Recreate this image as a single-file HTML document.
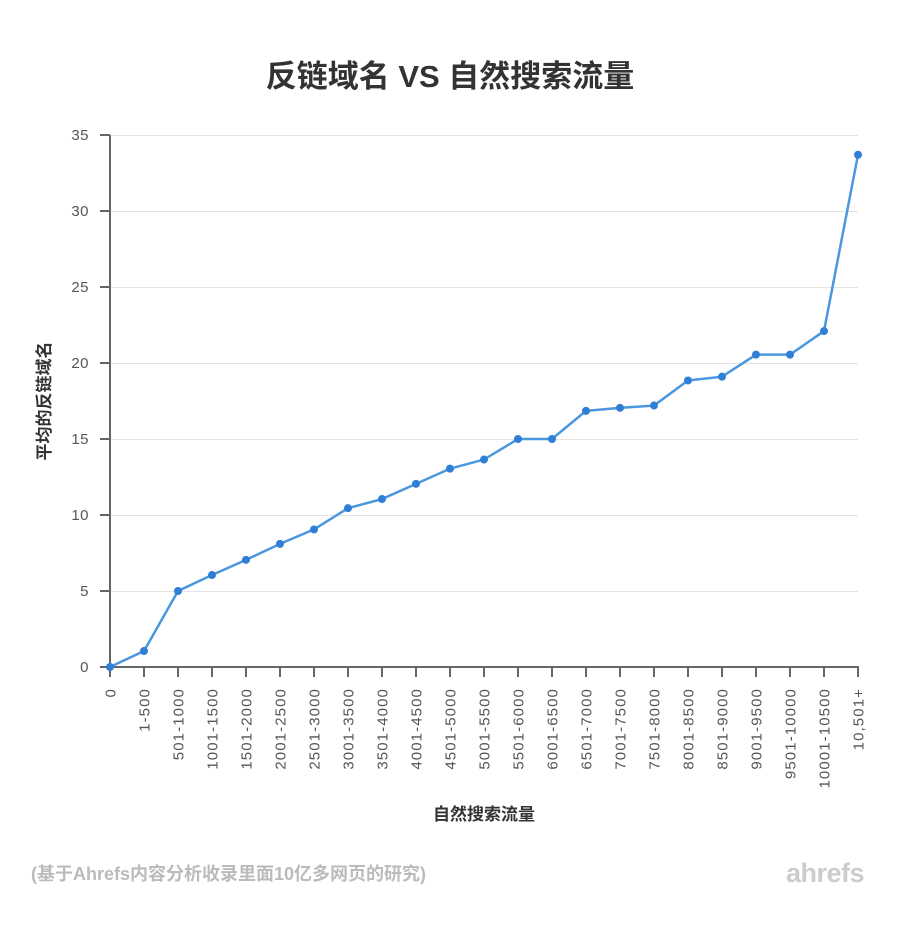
<!DOCTYPE html>
<html><head><meta charset="utf-8"><style>
html,body{margin:0;padding:0;background:#fff;}
svg{display:block;font-family:"Liberation Sans","Noto Sans CJK SC",sans-serif;}
</style></head><body>
<svg width="900" height="942" viewBox="0 0 900 942" xmlns="http://www.w3.org/2000/svg">
<rect width="900" height="942" fill="#fff"/>
<text x="450" y="87" text-anchor="middle" font-size="31" font-weight="bold" fill="#333">反链域名 VS 自然搜索流量</text>
<g stroke="#e3e3e3" stroke-width="1">
<line x1="110" y1="135.5" x2="858" y2="135.5"/>
<line x1="110" y1="211.5" x2="858" y2="211.5"/>
<line x1="110" y1="287.5" x2="858" y2="287.5"/>
<line x1="110" y1="363.5" x2="858" y2="363.5"/>
<line x1="110" y1="439.5" x2="858" y2="439.5"/>
<line x1="110" y1="515.5" x2="858" y2="515.5"/>
<line x1="110" y1="591.5" x2="858" y2="591.5"/>
</g>
<g stroke="#666" stroke-width="2">
<line x1="110" y1="135" x2="110" y2="668"/>
<line x1="100" y1="667" x2="859" y2="667"/>
<line x1="100" y1="135" x2="110" y2="135"/><line x1="100" y1="211" x2="110" y2="211"/><line x1="100" y1="287" x2="110" y2="287"/><line x1="100" y1="363" x2="110" y2="363"/><line x1="100" y1="439" x2="110" y2="439"/><line x1="100" y1="515" x2="110" y2="515"/><line x1="100" y1="591" x2="110" y2="591"/>
</g>
<g font-size="15" fill="#555" text-anchor="end" letter-spacing="0.5">
<text x="89" y="140">35</text><text x="89" y="216">30</text><text x="89" y="292">25</text><text x="89" y="368">20</text><text x="89" y="444">15</text><text x="89" y="520">10</text><text x="89" y="596">5</text><text x="89" y="672">0</text>
</g>
<text transform="translate(50,401) rotate(-90)" text-anchor="middle" font-size="17" font-weight="bold" fill="#333">平均的反链域名</text>
<text x="484" y="820" text-anchor="middle" font-size="17" font-weight="bold" fill="#333">自然搜索流量</text>
<g id="xt"></g>
<polyline id="ln" fill="none" stroke="#4a97df" stroke-width="2.5" points=""/>
<g id="dots" fill="#2f7fd6"></g>
<text x="31" y="880" font-size="18" font-weight="bold" fill="#bbb">(基于Ahrefs内容分析收录里面10亿多网页的研究)</text>
<text x="864" y="882" text-anchor="end" font-size="27" font-weight="bold" fill="#ccc" letter-spacing="-0.5">ahrefs</text>
<script>
var labels=["0","1-500","501-1000","1001-1500","1501-2000","2001-2500","2501-3000","3001-3500","3501-4000","4001-4500","4501-5000","5001-5500","5501-6000","6001-6500","6501-7000","7001-7500","7501-8000","8001-8500","8501-9000","9001-9500","9501-10000","10001-10500","10,501+"];
var v=[0,1.05,5,6.05,7.05,8.1,9.05,10.45,11.05,12.05,13.05,13.65,15,15,16.85,17.05,17.2,18.85,19.1,20.55,20.55,22.1,33.7];
var ns="http://www.w3.org/2000/svg",xt=document.getElementById("xt"),d=document.getElementById("dots"),pts=[];
for(var i=0;i<23;i++){var x=110+i*34,y=667-v[i]*15.2;pts.push(x+","+y);
var l=document.createElementNS(ns,"line");l.setAttribute("x1",x);l.setAttribute("x2",x);l.setAttribute("y1",667);l.setAttribute("y2",677);l.setAttribute("stroke","#666");l.setAttribute("stroke-width","2");xt.appendChild(l);
var t=document.createElementNS(ns,"text");t.setAttribute("transform","translate("+(x+5.5)+",688) rotate(-90)");t.setAttribute("text-anchor","end");t.setAttribute("font-size","15");t.setAttribute("letter-spacing","1.1");t.setAttribute("fill","#555");t.textContent=labels[i];xt.appendChild(t);
var c=document.createElementNS(ns,"circle");c.setAttribute("cx",x);c.setAttribute("cy",y);c.setAttribute("r","4");d.appendChild(c);}
document.getElementById("ln").setAttribute("points",pts.join(" "));
</script>
</svg>
</body></html>
